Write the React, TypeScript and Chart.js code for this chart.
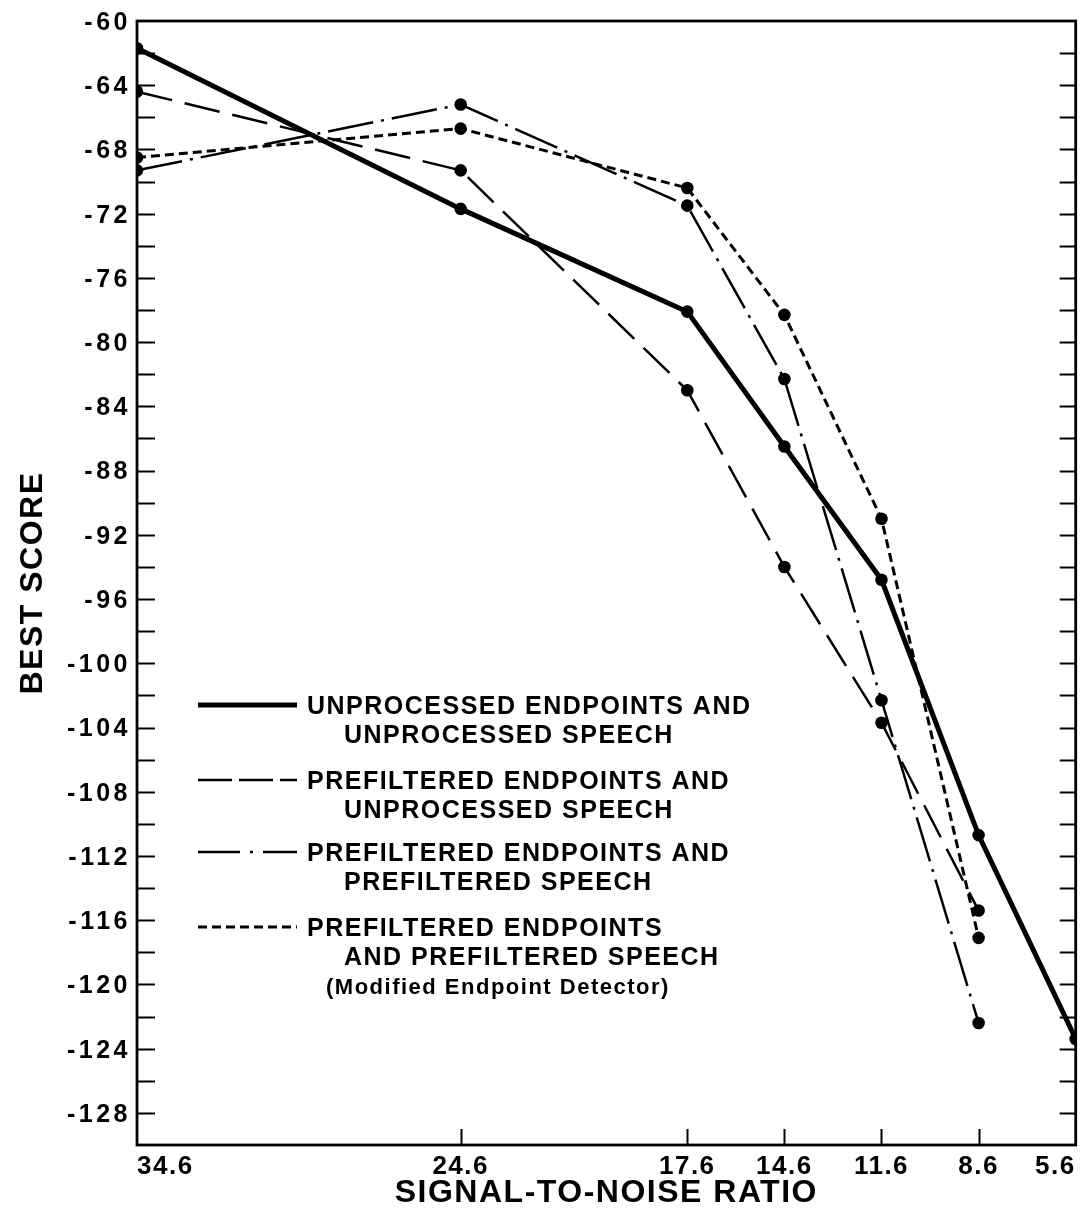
import React, { useEffect, useRef } from 'react';
import { Chart, registerables } from 'chart.js';

Chart.register(...registerables);

// ---- data ----
const SNR = [34.6, 24.6, 17.6, 14.6, 11.6, 8.6, 5.6];
const X_TICKS = [5.6, 8.6, 11.6, 14.6, 17.6, 24.6, 34.6];
const Y_TICKS = [-128, -124, -120, -116, -112, -108, -104, -100, -96, -92, -88, -84, -80, -76, -72, -68, -64, -60];

const UNPROC_UNPROC = [-61.7, -71.7, -78.1, -86.5, -94.8, -110.7, -123.4];
const PREF_UNPROC = [-64.4, -69.3, -83.0, -94.0, -103.7, -115.4, null];
const PREF_PREF = [-69.3, -65.2, -71.5, -82.3, -102.3, -122.4, null];
const PREF_PREF_MOD = [-68.5, -66.7, -70.4, -78.3, -91.0, -117.1, null];

const LEGEND_TEXT = [
  ['UNPROCESSED ENDPOINTS AND', 'UNPROCESSED SPEECH'],
  ['PREFILTERED ENDPOINTS AND', 'UNPROCESSED SPEECH'],
  ['PREFILTERED ENDPOINTS AND', 'PREFILTERED SPEECH'],
  ['PREFILTERED ENDPOINTS', 'AND PREFILTERED SPEECH', '(Modified Endpoint Detector)'],
];

const FONT = "'Liberation Sans', Arial, Helvetica, sans-serif";

const toPoints = (vals: (number | null)[]) =>
  SNR.map((s, i) => ({ x: s, y: vals[i] })).filter((p) => p.y !== null);

const STYLES = [
  { width: 5, dash: [] as number[], legendDash: [] as number[] },
  { width: 2.5, dash: [36, 13], legendDash: [34, 7] },
  { width: 2.5, dash: [46, 8, 3, 8], legendDash: [42, 10, 3, 10] },
  { width: 3, dash: [9, 5], legendDash: [9, 5] },
];

const framePlugin = {
  id: 'frameTicksLegend',
  beforeDraw(chart: any) {
    (chart.ctx as any).letterSpacing = '1.5px';
  },
  afterDatasetsDraw(chart: any) {
    // y tick labels (drawn after datasets, z = 1) get wider tracking
    (chart.ctx as any).letterSpacing = '3.5px';
  },
  afterDraw(chart: any) {
    const { ctx, chartArea: a, scales } = chart;
    const xs = scales.x;
    const ys = scales.y;
    ctx.save();
    (ctx as any).letterSpacing = '0px';
    ctx.strokeStyle = '#000';
    ctx.lineWidth = 2.8;
    ctx.setLineDash([]);
    ctx.strokeRect(a.left, a.top, a.right - a.left, a.bottom - a.top);
    // inward tick marks
    ctx.lineWidth = 2;
    ctx.beginPath();
    for (let v = ys.min + 2; v < ys.max; v += 2) {
      const py = Math.round(ys.getPixelForValue(v)) + 0.5;
      ctx.moveTo(a.left, py);
      ctx.lineTo(a.left + 18, py);
      ctx.moveTo(a.right, py);
      ctx.lineTo(a.right - 16, py);
    }
    for (const v of X_TICKS) {
      if (v === xs.min || v === xs.max) continue;
      const px = Math.round(xs.getPixelForValue(v)) + 0.5;
      ctx.moveTo(px, a.bottom);
      ctx.lineTo(px, a.bottom - 16);
    }
    ctx.stroke();

    // legend
    const sampleY = [705, 780, 852, 927];
    const x0 = 198;
    const x1 = 297;
    ctx.fillStyle = '#000';
    ctx.textBaseline = 'middle';
    ctx.textAlign = 'left';
    (ctx as any).letterSpacing = '1.5px';
    LEGEND_TEXT.forEach((lines, i) => {
      const st = STYLES[i];
      ctx.lineWidth = st.width;
      ctx.setLineDash(st.legendDash);
      ctx.beginPath();
      ctx.moveTo(x0, sampleY[i]);
      ctx.lineTo(x1, sampleY[i]);
      ctx.stroke();
      ctx.setLineDash([]);
      lines.forEach((t, j) => {
        let tx = j === 0 ? 307 : 344;
        let size = 25;
        if (j === 2) {
          tx = 326;
          size = 22;
        }
        ctx.font = `bold ${size}px ${FONT}`;
        ctx.fillText(t, tx, sampleY[i] + 2 + j * 29.5);
      });
    });
    ctx.restore();
  },
};

export default function App() {
  const ref = useRef<HTMLCanvasElement>(null);

  useEffect(() => {
    const series = [UNPROC_UNPROC, PREF_UNPROC, PREF_PREF, PREF_PREF_MOD];
    const chart = new Chart(ref.current as HTMLCanvasElement, {
      type: 'line',
      data: {
        datasets: series.map((vals, i) => ({
          label: LEGEND_TEXT[i].join(' '),
          data: toPoints(vals) as any,
          borderColor: '#000',
          backgroundColor: '#000',
          borderWidth: STYLES[i].width,
          borderDash: STYLES[i].dash,
          pointRadius: 6.3,
          pointBorderWidth: 0,
          pointBackgroundColor: '#000',
          tension: 0,
          fill: false,
          clip: 0,
        })),
      },
      options: {
        animation: false,
        responsive: true,
        maintainAspectRatio: false,
        events: [],
        layout: { padding: { left: 0, top: 15, right: 4, bottom: 0 } },
        plugins: {
          legend: { display: false },
          tooltip: { enabled: false },
        },
        scales: {
          x: {
            type: 'linear',
            reverse: true,
            min: 5.6,
            max: 34.6,
            grid: { display: false, drawTicks: false },
            border: { display: false },
            afterBuildTicks: (axis: any) => {
              axis.ticks = X_TICKS.map((v) => ({ value: v }));
            },
            afterFit: (axis: any) => {
              axis.height = 76;
            },
            ticks: {
              align: 'inner',
              autoSkip: false,
              maxRotation: 0,
              padding: 6,
              color: '#000',
              font: { family: FONT, size: 26, weight: 'bold' },
              callback: (v: any) => Number(v).toFixed(1),
            },
            title: {
              display: true,
              text: 'SIGNAL-TO-NOISE RATIO',
              color: '#000',
              font: { family: FONT, size: 32, weight: 'bold', lineHeight: 1.2 },
              padding: { top: 0, bottom: 9 },
            },
          },
          y: {
            type: 'linear',
            min: -130,
            max: -60,
            grid: { display: false, drawTicks: false },
            border: { display: false },
            afterBuildTicks: (axis: any) => {
              axis.ticks = Y_TICKS.map((v) => ({ value: v }));
            },
            afterFit: (axis: any) => {
              axis.width = 137;
            },
            ticks: {
              z: 1,
              autoSkip: false,
              padding: 6,
              labelOffset: 2,
              color: '#000',
              font: { family: FONT, size: 25, weight: 'bold' },
              callback: (v: any) => String(v),
            },
            title: {
              display: true,
              text: 'BEST SCORE',
              color: '#000',
              font: { family: FONT, size: 32, weight: 'bold', lineHeight: 1.2 },
              padding: { top: 14, bottom: 0 },
            },
          },
        },
      } as any,
      plugins: [framePlugin],
    });
    return () => chart.destroy();
  }, []);

  return (
    <div style={{ position: 'fixed', left: 0, top: 0, width: 1082, height: 1221, background: '#fff' }}>
      <canvas ref={ref} />
    </div>
  );
}
